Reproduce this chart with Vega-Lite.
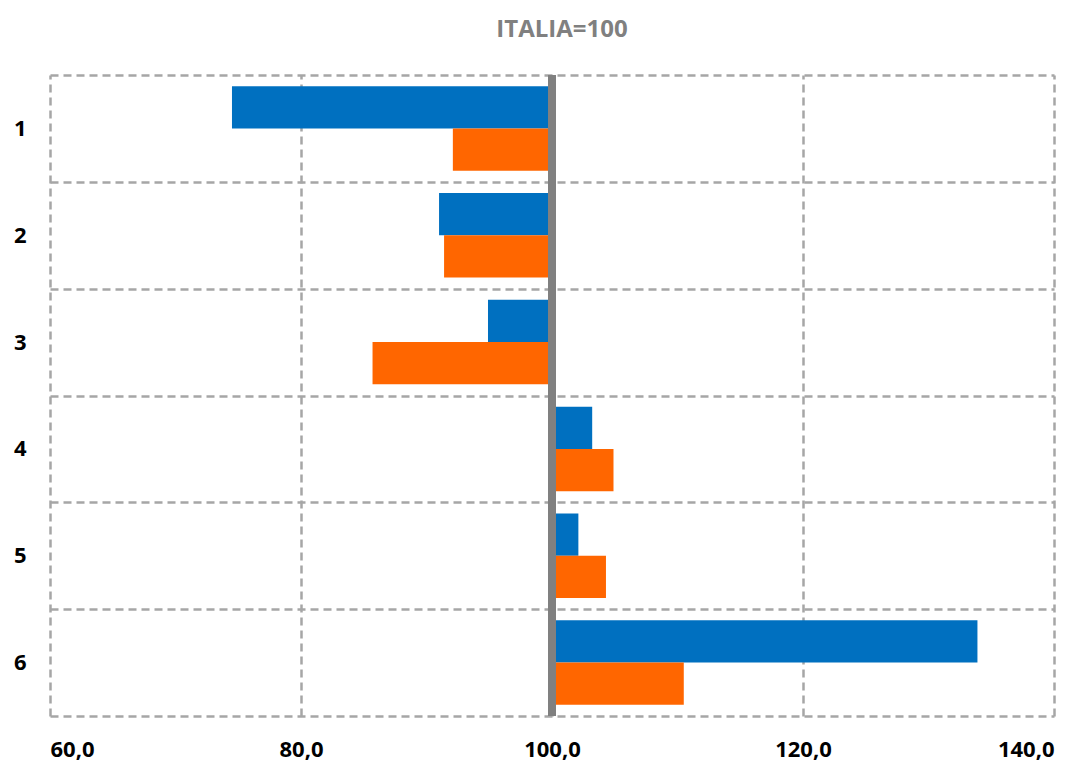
{
  "$schema": "https://vega.github.io/schema/vega-lite/v6.json",
  "width": 1004,
  "height": 641,
  "autosize": {"type": "none"},
  "padding": {"left": 50, "top": 75, "right": 34, "bottom": 45},
  "background": "white",
  "title": {
    "text": "ITALIA=100",
    "fontSize": 24,
    "font": "Open Sans",
    "fontWeight": "bold",
    "color": "#808080",
    "offset": 22,
    "anchor": "middle",
    "dx": 10
  },
  "config": {
    "view": {"stroke": null},
    "axis": {
      "labelFont": "Open Sans",
      "labelFontWeight": "bold",
      "labelColor": "#000000",
      "domain": false,
      "ticks": false,
      "grid": true,
      "gridColor": "#A6A6A6",
      "gridDash": [8, 5],
      "gridWidth": 2.5
    }
  },
  "data": {
    "values": [
      {"cat": "1", "serie": "A", "value": 74.5},
      {"cat": "1", "serie": "B", "value": 92.1},
      {"cat": "2", "serie": "A", "value": 91.0},
      {"cat": "2", "serie": "B", "value": 91.4},
      {"cat": "3", "serie": "A", "value": 94.9},
      {"cat": "3", "serie": "B", "value": 85.7},
      {"cat": "4", "serie": "A", "value": 103.2},
      {"cat": "4", "serie": "B", "value": 104.9},
      {"cat": "5", "serie": "A", "value": 102.1},
      {"cat": "5", "serie": "B", "value": 104.3},
      {"cat": "6", "serie": "A", "value": 133.9},
      {"cat": "6", "serie": "B", "value": 110.5}
    ]
  },
  "layer": [
    {
      "mark": {"type": "bar", "cornerRadius": 0},
      "encoding": {
        "y": {
          "field": "cat",
          "type": "nominal",
          "sort": ["1", "2", "3", "4", "5", "6"],
          "scale": {"paddingInner": 0, "paddingOuter": 0},
          "axis": {
            "title": null,
            "labelFontSize": 22,
            "labelPadding": 24,
            "tickBand": "extent"
          }
        },
        "yOffset": {
          "field": "serie",
          "type": "nominal",
          "scale": {"paddingInner": 0, "paddingOuter": 0.265}
        },
        "x": {
          "field": "value",
          "type": "quantitative",
          "scale": {"domain": [60, 140], "zero": false, "nice": false},
          "axis": {
            "title": null,
            "values": [60, 80, 100, 120, 140],
            "labelExpr": "replace(format(datum.value, '.1f'), '.', ',')",
            "labelFontSize": 22,
            "labelPadding": 23
          }
        },
        "x2": {"datum": 100},
        "color": {
          "field": "serie",
          "type": "nominal",
          "scale": {"domain": ["A", "B"], "range": ["#0070C0", "#FF6600"]},
          "legend": null
        }
      }
    },
    {
      "mark": {"type": "rule", "color": "#808080", "strokeWidth": 8},
      "encoding": {"x": {"datum": 100}}
    }
  ]
}
